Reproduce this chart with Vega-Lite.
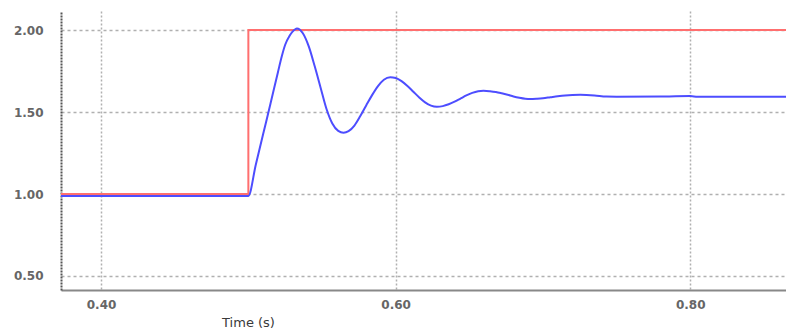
{
  "$schema": "https://vega.github.io/schema/vega-lite/v6.json",
  "width": 725,
  "height": 279,
  "autosize": {"type": "none"},
  "padding": {"left": 61, "top": 11, "right": 0, "bottom": 39},
  "background": "white",
  "config": {"view": {"stroke": null}},
  "datasets": {
    "setpoint": [
      {"i": 0, "t": 0.3728, "v": 1.0},
      {"i": 1, "t": 0.5, "v": 1.0},
      {"i": 2, "t": 0.5, "v": 2.0},
      {"i": 3, "t": 0.865, "v": 2.0}
    ],
    "response": [
      {"t": 0.3728, "v": 0.988},
      {"t": 0.5, "v": 0.988},
      {"t": 0.505, "v": 1.177},
      {"t": 0.51, "v": 1.364},
      {"t": 0.515, "v": 1.55},
      {"t": 0.52, "v": 1.74},
      {"t": 0.5227, "v": 1.84},
      {"t": 0.525, "v": 1.91},
      {"t": 0.528, "v": 1.965},
      {"t": 0.530, "v": 1.99},
      {"t": 0.533, "v": 2.01},
      {"t": 0.537, "v": 1.98},
      {"t": 0.541, "v": 1.9},
      {"t": 0.545, "v": 1.78},
      {"t": 0.549, "v": 1.65},
      {"t": 0.553, "v": 1.52},
      {"t": 0.557, "v": 1.43},
      {"t": 0.561, "v": 1.385},
      {"t": 0.5646, "v": 1.374},
      {"t": 0.568, "v": 1.383},
      {"t": 0.572, "v": 1.417},
      {"t": 0.576, "v": 1.475},
      {"t": 0.580, "v": 1.54},
      {"t": 0.584, "v": 1.603},
      {"t": 0.588, "v": 1.658},
      {"t": 0.592, "v": 1.697},
      {"t": 0.5963, "v": 1.712},
      {"t": 0.600, "v": 1.707},
      {"t": 0.604, "v": 1.688},
      {"t": 0.608, "v": 1.659},
      {"t": 0.612, "v": 1.624},
      {"t": 0.616, "v": 1.589},
      {"t": 0.620, "v": 1.559},
      {"t": 0.624, "v": 1.539},
      {"t": 0.628, "v": 1.532},
      {"t": 0.632, "v": 1.536},
      {"t": 0.636, "v": 1.547},
      {"t": 0.640, "v": 1.563},
      {"t": 0.644, "v": 1.582},
      {"t": 0.648, "v": 1.601},
      {"t": 0.652, "v": 1.617},
      {"t": 0.656, "v": 1.627},
      {"t": 0.6596, "v": 1.63},
      {"t": 0.664, "v": 1.627},
      {"t": 0.668, "v": 1.622},
      {"t": 0.672, "v": 1.614},
      {"t": 0.676, "v": 1.605},
      {"t": 0.680, "v": 1.595},
      {"t": 0.684, "v": 1.587},
      {"t": 0.688, "v": 1.581},
      {"t": 0.6913, "v": 1.579},
      {"t": 0.696, "v": 1.581},
      {"t": 0.700, "v": 1.584},
      {"t": 0.705, "v": 1.59},
      {"t": 0.710, "v": 1.596},
      {"t": 0.715, "v": 1.601},
      {"t": 0.720, "v": 1.604},
      {"t": 0.7253, "v": 1.605},
      {"t": 0.735, "v": 1.601},
      {"t": 0.743, "v": 1.594},
      {"t": 0.75, "v": 1.593},
      {"t": 0.78, "v": 1.594},
      {"t": 0.79, "v": 1.596},
      {"t": 0.80, "v": 1.597},
      {"t": 0.805, "v": 1.593},
      {"t": 0.865, "v": 1.593}
    ]
  },
  "encoding": {
    "x": {
      "field": "t",
      "type": "quantitative",
      "scale": {"domain": [0.3728, 0.865], "nice": false, "zero": false},
      "axis": {
        "values": [0.4, 0.6, 0.8],
        "format": ".2f",
        "title": "Time (s)",
        "titleFont": "DejaVu Sans",
        "titleFontSize": 13,
        "titleFontWeight": "normal",
        "titleColor": "#3a3a3a",
        "titleX": 187,
        "titleY": 36,
        "titleAnchor": "middle",
        "titleBaseline": "alphabetic",
        "labelFont": "DejaVu Sans",
        "labelFontSize": 12,
        "labelFontWeight": "bold",
        "labelColor": "#666666",
        "labelPadding": 9,
        "ticks": false,
        "grid": true,
        "gridColor": "#b0b0b0",
        "gridDash": [2, 2],
        "gridWidth": 1.5,
        "domainColor": "#888888",
        "domainWidth": 2
      }
    },
    "y": {
      "field": "v",
      "type": "quantitative",
      "scale": {"domain": [0.4146, 2.116], "nice": false, "zero": false},
      "axis": {
        "values": [0.5, 1.0, 1.5, 2.0],
        "format": ".2f",
        "title": null,
        "labelFont": "DejaVu Sans",
        "labelFontSize": 12,
        "labelFontWeight": "bold",
        "labelColor": "#666666",
        "labelPadding": 18,
        "ticks": false,
        "grid": true,
        "gridColor": "#b0b0b0",
        "gridDash": [3, 3],
        "gridWidth": 1.5,
        "domainColor": "#555555",
        "domainDash": [2, 1],
        "domainWidth": 2
      }
    }
  },
  "layer": [
    {
      "data": {"name": "setpoint"},
      "mark": {"type": "line", "color": "#ff6f6f", "strokeWidth": 2},
      "encoding": {"order": {"field": "i", "type": "quantitative"}}
    },
    {
      "data": {"name": "response"},
      "mark": {"type": "line", "color": "#4d4dff", "strokeWidth": 2, "interpolate": "monotone"},
      "encoding": {}
    }
  ]
}
